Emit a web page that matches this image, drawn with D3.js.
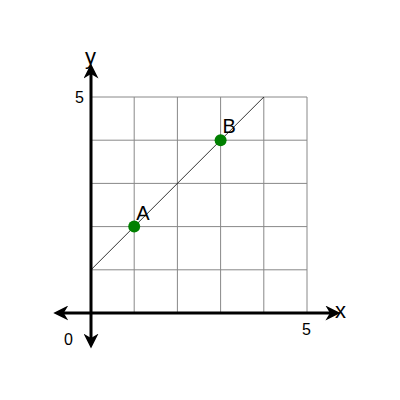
<!DOCTYPE html><html><head><script src="https://cdn.jsdelivr.net/npm/d3@7"></script>
<style>body{margin:0}text{font-family:"Liberation Sans",Arial,sans-serif}</style></head><body>
<script>
const gridTicks=[0,1,2,3,4,5];
const linePts=[[0,1],[4,5]];
const points=[{name:"A",x:1,y:2},{name:"B",x:3,y:4}];
const svg=d3.select("body").append("svg").attr("width",400).attr("height",400);
const x=d3.scaleLinear().domain([0,5]).range([91,307]);
const y=d3.scaleLinear().domain([0,5]).range([313,97]);
const defs=svg.append("defs");
defs.append("marker").attr("id","ar").attr("viewBox","0 0 10 10").attr("refX",5).attr("refY",5)
 .attr("markerWidth",5).attr("markerHeight",5).attr("orient","auto-start-reverse")
 .append("path").attr("d","M0,0L10,5L0,10L3,5Z").attr("fill","#000");
gridTicks.forEach(t=>{
 svg.append("line").attr("x1",x(t)).attr("x2",x(t)).attr("y1",y(0)).attr("y2",y(5)).attr("stroke","#888").attr("stroke-width",1);
 svg.append("line").attr("y1",y(t)).attr("y2",y(t)).attr("x1",x(0)).attr("x2",x(5)).attr("stroke","#888").attr("stroke-width",1);
});
svg.append("line").attr("x1",x(-0.7)).attr("x2",x(5.6)).attr("y1",y(0)).attr("y2",y(0)).attr("stroke","#000").attr("stroke-width",3)
 .attr("marker-start","url(#ar)").attr("marker-end","url(#ar)");
svg.append("line").attr("x1",x(0)).attr("x2",x(0)).attr("y1",y(-0.65)).attr("y2",y(5.6)).attr("stroke","#000").attr("stroke-width",3)
 .attr("marker-start","url(#ar)").attr("marker-end","url(#ar)");
svg.append("line").attr("x1",x(linePts[0][0])).attr("y1",y(linePts[0][1])).attr("x2",x(linePts[1][0])).attr("y2",y(linePts[1][1])).attr("stroke","#000").attr("stroke-width",0.8);
points.forEach(p=>{
 svg.append("circle").attr("cx",x(p.x)).attr("cy",y(p.y)).attr("r",6).attr("fill","green");
 svg.append("text").attr("x",x(p.x)+2).attr("y",y(p.y)-7).attr("font-size",20).text(p.name);
});
svg.append("text").attr("x",335).attr("y",318).attr("font-size",22).text("x");
svg.append("text").attr("x",85).attr("y",64).attr("font-size",22).text("y");
svg.append("text").attr("x",75).attr("y",103).attr("font-size",16).text("5");
svg.append("text").attr("x",302).attr("y",335).attr("font-size",16).text("5");
svg.append("text").attr("x",64).attr("y",345).attr("font-size",16).text("0");
</script></body></html>
